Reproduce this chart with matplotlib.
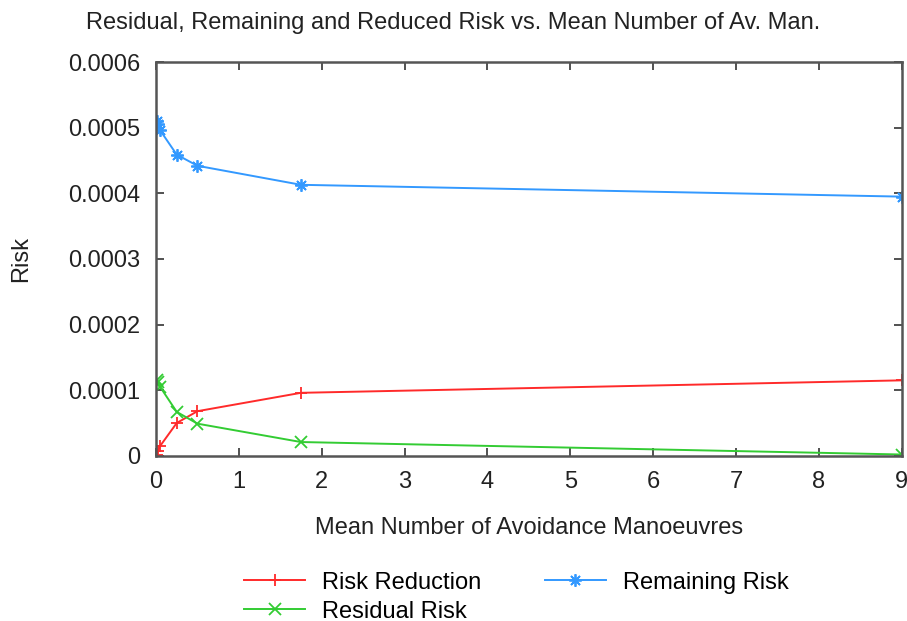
import matplotlib
matplotlib.use("Agg")
import matplotlib.pyplot as plt

plt.rcParams['font.family'] = ['Liberation Sans', 'DejaVu Sans']

# Mean number of avoidance manoeuvres
mean_man = [0.01, 0.02, 0.05, 0.25, 0.5, 1.75, 9.0]
risk_reduction = [0.000002, 0.000007, 0.000015, 0.000050, 0.000068, 0.000096, 0.000115]
residual_risk = [0.000116, 0.000112, 0.000105, 0.000067, 0.000049, 0.000021, 0.000002]
remaining_risk = [0.000510, 0.000505, 0.000496, 0.000459, 0.000442, 0.000413, 0.000395]

fig = plt.figure(figsize=(9.07, 6.21), dpi=100)
ax = fig.add_axes([0.172, 0.266, 0.822, 0.634])

ax.plot(mean_man, risk_reduction, color="#ff2a2a", lw=1.4, marker="+", ms=9, mew=1.3, label="Risk Reduction")
ax.plot(mean_man, residual_risk, color="#33cc33", lw=1.4, marker="x", ms=8, mew=1.3, label="Residual Risk")
ax.plot(mean_man, remaining_risk, color="#3399ff", lw=1.4, marker=(8, 2, 0), ms=9, mew=1.3, label="Remaining Risk")

ax.set_xlim(0, 9)
ax.set_ylim(0, 0.0006)
ax.set_xticks(range(0, 10))
ax.set_yticks([0, 0.0001, 0.0002, 0.0003, 0.0004, 0.0005, 0.0006])
ax.set_yticklabels(["0", "0.0001", "0.0002", "0.0003", "0.0004", "0.0005", "0.0006"])
ax.tick_params(direction="in", top=True, right=True, length=6, width=1.2,
               color="#333333", labelsize=17, labelcolor="#222222")
ax.tick_params(axis="x", pad=11)
ax.tick_params(axis="y", pad=11)
for s in ax.spines.values():
    s.set_color("#555555")
    s.set_linewidth(1.8)

ax.set_xlabel("Mean Number of Avoidance Manoeuvres", fontsize=17, labelpad=17, color="#222222")
ax.set_ylabel("Risk", fontsize=17, labelpad=26, color="#222222")
ax.set_title("Residual, Remaining and Reduced Risk vs. Mean Number of Av. Man.",
             fontsize=17, pad=24, color="#222222", x=0.398)

ax.legend(ncol=2, loc="upper center", bbox_to_anchor=(0.483, -0.24), frameon=False,
          fontsize=17, handlelength=2.6, columnspacing=2.7, labelspacing=0.3,
          handletextpad=0.7)

fig.savefig("out.png", dpi=100)
